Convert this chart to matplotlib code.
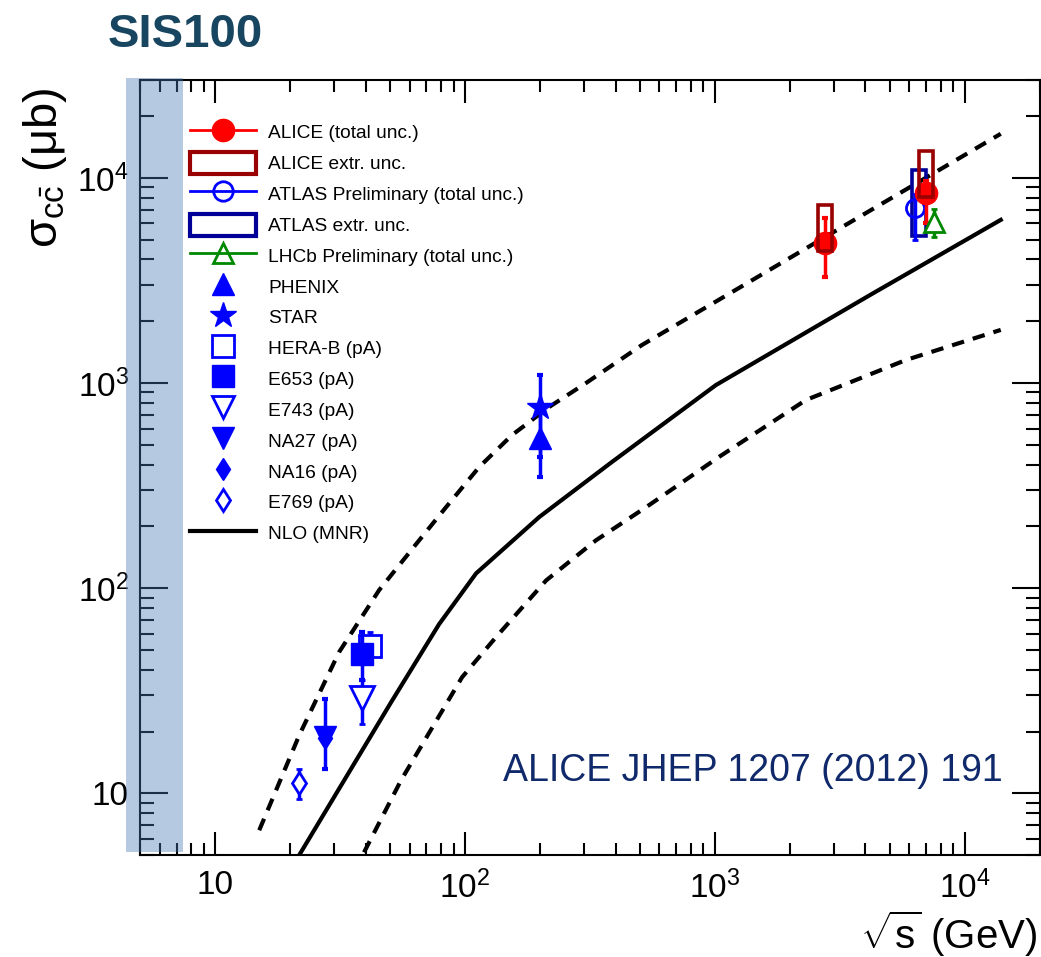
import numpy as np
import matplotlib
matplotlib.use('Agg')
import matplotlib.pyplot as plt
from matplotlib.lines import Line2D
from matplotlib.patches import Patch
from matplotlib.ticker import FixedLocator, FixedFormatter, LogLocator, NullFormatter

plt.rcParams['font.family'] = ['Liberation Sans', 'DejaVu Sans']
plt.rcParams['mathtext.fontset'] = 'custom'
plt.rcParams['mathtext.rm'] = 'Liberation Sans'
plt.rcParams['mathtext.it'] = 'Liberation Sans'
plt.rcParams['mathtext.bf'] = 'Liberation Sans:bold'
plt.rcParams['mathtext.sf'] = 'Liberation Sans'

# ---------------- data ----------------
# NLO (MNR) curves: sqrt(s) [GeV], sigma_cc [mub]
nlo_central_x = [21.7, 50.6, 78.7, 110.7, 198, 387, 1009, 4246, 13930]
nlo_central_y = [5.0, 27.8, 66.7, 118, 222, 412, 977, 2716, 6240]
nlo_upper_x = [15.0, 21.7, 31.3, 45.3, 65.5, 83.9, 113.8, 154, 217, 305, 510, 1247, 3133, 13930]
nlo_upper_y = [6.6, 19.2, 48.7, 97.8, 171, 248, 389, 557, 764, 1000, 1531, 2904, 5636, 16400]
nlo_lower_x = [39.4, 55.5, 97.3, 133, 211, 334, 530, 1038, 2312, 5808, 13930]
nlo_lower_y = [5.15, 11.6, 36.8, 57.7, 109, 171, 248, 436, 826, 1294, 1815]

# ALICE
alice_x = [2760, 7000]
alice_y = [4820, 8450]
alice_lo = [3290, 6030]
alice_hi = [6380, 9660]
alice_extr_lo = [4400, 8100]
alice_extr_hi = [7400, 13500]

# ATLAS Preliminary
atlas_x = [6300]
atlas_box_x = [6550]
atlas_y = [7130]
atlas_lo = [5000]
atlas_hi = [8350]
atlas_extr_lo = [5230]
atlas_extr_hi = [10950]

# LHCb Preliminary
lhcb_x = [7520]
lhcb_y = [6100]
lhcb_lo = [5150]
lhcb_hi = [7060]

# RHIC
phenix_x = [200]
phenix_y = [540]
phenix_lo = [348]
phenix_hi = [780]
star_x = [200]
star_y = [764]
star_lo = [435]
star_hi = [1094]

# fixed target pA
herab_x = [41.6]
herab_y = [52]
herab_lo = [43]
herab_hi = [61]
e653_x = [38.8]
e653_y = [48]
e653_lo = [35.6]
e653_hi = [61]
e743_x = [38.8]
e743_y = [29]
e743_lo = [21.7]
e743_hi = [35.6]
na27_x = [27.4]
na27_y = [18.8]
na27_lo = [13.1]
na27_hi = [28.7]
na16_x = [27.4]
na16_y = [18.5]
e769_x = [21.7]
e769_y = [11.2]
e769_lo = [9.35]
e769_hi = [13.1]

sis100_range = [4.4, 7.4]

x_major_ticks = [10, 100, 1000, 10000]
x_tick_labels = ['10', r'$10^{2}$', r'$10^{3}$', r'$10^{4}$']
y_major_ticks = [10, 100, 1000, 10000]
y_tick_labels = ['10', r'$10^{2}$', r'$10^{3}$', r'$10^{4}$']

legend_labels = ['ALICE (total unc.)', 'ALICE extr. unc.', 'ATLAS Preliminary (total unc.)',
                 'ATLAS extr. unc.', 'LHCb Preliminary (total unc.)', 'PHENIX', 'STAR',
                 'HERA-B (pA)', 'E653 (pA)', 'E743 (pA)', 'NA27 (pA)', 'NA16 (pA)',
                 'E769 (pA)', 'NLO (MNR)']

# ---------------- styles ----------------
RED = '#ff0000'
DRED = '#990000'
BLUE = '#0000ff'
DBLUE = '#000099'
GREEN = '#008800'
BOX_HALF_DEC = 0.028

fig = plt.figure(figsize=(10.41, 9.57), dpi=100)
ax = fig.add_axes([140/1041, 1-855/957, 900/1041, 775/957])
ax.set_xscale('log')
ax.set_yscale('log')
ax.set_xlim(5, 2e4)
ax.set_ylim(5, 3e4)

# NLO curves
ax.plot(nlo_central_x, nlo_central_y, color='black', lw=3, zorder=2)
ax.plot(nlo_upper_x, nlo_upper_y, color='black', lw=3, dashes=(3, 2.2), zorder=2)
ax.plot(nlo_lower_x, nlo_lower_y, color='black', lw=3, dashes=(3, 2.2), zorder=2)


def yerr(y, lo, hi):
    return [np.subtract(y, lo), np.subtract(hi, y)]


def box(x, lo, hi, color, z):
    x = np.asarray(x, float)
    left = x * 10**(-BOX_HALF_DEC)
    width = x * 10**(BOX_HALF_DEC) - left
    ax.bar(left, np.subtract(hi, lo), width=width, bottom=lo, align='edge',
           fill=False, edgecolor=color, linewidth=2.6, zorder=z)


eb = dict(capsize=2.5, capthick=3, elinewidth=2.5, linestyle='none')

# fixed target
ax.errorbar(herab_x, herab_y, yerr=yerr(herab_y, herab_lo, herab_hi), fmt='s', ms=16,
            mfc='white', mec=BLUE, mew=2, color=BLUE, zorder=4, **eb)
ax.errorbar(e653_x, e653_y, yerr=yerr(e653_y, e653_lo, e653_hi), fmt='s', ms=16,
            mfc=BLUE, mec=BLUE, color=BLUE, zorder=5, **eb)
ax.errorbar(e743_x, e743_y, yerr=yerr(e743_y, e743_lo, e743_hi), fmt='v', ms=17,
            mfc='white', mec=BLUE, mew=2, color=BLUE, zorder=4, **eb)
ax.plot(na16_x, na16_y, 'd', ms=11.5, color=BLUE, zorder=4)
ax.errorbar(na27_x, na27_y, yerr=yerr(na27_y, na27_lo, na27_hi), fmt='v', ms=16,
            mfc=BLUE, mec=BLUE, color=BLUE, zorder=5, **eb)
ax.errorbar(e769_x, e769_y, yerr=yerr(e769_y, e769_lo, e769_hi), fmt='d', ms=11.5,
            mfc='white', mec=BLUE, mew=2, color=BLUE, zorder=4, **eb)

# RHIC
ax.errorbar(phenix_x, phenix_y, yerr=yerr(phenix_y, phenix_lo, phenix_hi), fmt='^', ms=16,
            mfc=BLUE, mec=BLUE, color=BLUE, zorder=4, **eb)
ax.errorbar(star_x, star_y, yerr=yerr(star_y, star_lo, star_hi), fmt='*', ms=20,
            mfc=BLUE, mec=BLUE, color=BLUE, zorder=5, **eb)

# LHC
box(atlas_box_x, atlas_extr_lo, atlas_extr_hi, DBLUE, 4)
ax.errorbar(atlas_x, atlas_y, yerr=yerr(atlas_y, atlas_lo, atlas_hi), fmt='o', ms=13,
            mfc='none', mec=BLUE, mew=2, color=BLUE, zorder=4, **eb)
ax.errorbar(alice_x, alice_y, yerr=yerr(alice_y, alice_lo, alice_hi), fmt='o', ms=16,
            mfc=RED, mec=RED, color=RED, zorder=5, **eb)
box(alice_x, alice_extr_lo, alice_extr_hi, DRED, 6)
ax.errorbar(lhcb_x, lhcb_y, yerr=yerr(lhcb_y, lhcb_lo, lhcb_hi), fmt='^', ms=15,
            mfc='white', mec=GREEN, mew=2, color=GREEN, zorder=5, **eb)

# SIS100 band
ax.axvspan(sis100_range[0], sis100_range[1], ymin=0.004, ymax=1.003, color='#4678b4',
           alpha=0.4, lw=0, zorder=10, clip_on=False)

# ticks
ax.xaxis.set_major_locator(FixedLocator(x_major_ticks))
ax.xaxis.set_major_formatter(FixedFormatter(x_tick_labels))
ax.yaxis.set_major_locator(FixedLocator(y_major_ticks))
ax.yaxis.set_major_formatter(FixedFormatter(y_tick_labels))
ax.xaxis.set_minor_locator(LogLocator(base=10, subs=np.arange(2, 10), numticks=20))
ax.yaxis.set_minor_locator(LogLocator(base=10, subs=np.arange(2, 10), numticks=20))
ax.xaxis.set_minor_formatter(NullFormatter())
ax.yaxis.set_minor_formatter(NullFormatter())
ax.tick_params(which='both', direction='in', top=True, right=True, width=1.5, color='black')
ax.tick_params(axis='x', which='major', length=16.5, labelsize=24, pad=11)
ax.tick_params(axis='x', which='minor', length=8.5)
ax.tick_params(axis='y', which='major', length=20, labelsize=24, pad=8)
ax.tick_params(axis='y', which='minor', length=10)
for s in ax.spines.values():
    s.set_linewidth(1.5)

# axis labels
ax.set_xlabel(r'$\sqrt{s}$ (GeV)', fontsize=29, loc='right')
ax.xaxis.set_label_coords(0.997, -0.069)
ax.set_ylabel(r'$\sigma_{c\bar{c}}$ (μb)', fontsize=34, loc='top')
ax.yaxis.set_label_coords(-0.079, 0.991)

# annotation
ax.text(0.403, 0.095, 'ALICE JHEP 1207 (2012) 191', transform=ax.transAxes,
        fontsize=27, color='#10296b', ha='left', va='baseline')

# title
fig.text(108/1041, 1-47/957, 'SIS100', fontsize=34, fontweight='bold', color='#184660',
         ha='left', va='baseline')

# legend
handles = [
    Line2D([0], [0], color=RED, lw=2, marker='o', ms=16, mfc=RED, mec=RED),
    Patch(facecolor='none', edgecolor=DRED, lw=3),
    Line2D([0], [0], color=BLUE, lw=2, marker='o', ms=14, mfc='none', mec=BLUE, mew=2),
    Patch(facecolor='none', edgecolor=DBLUE, lw=3),
    Line2D([0], [0], color=GREEN, lw=2, marker='^', ms=15, mfc='none', mec=GREEN, mew=2),
    Line2D([0], [0], ls='none', marker='^', ms=16, color=BLUE),
    Line2D([0], [0], ls='none', marker='*', ms=19, color=BLUE),
    Line2D([0], [0], ls='none', marker='s', ms=16, mfc='white', mec=BLUE, mew=2),
    Line2D([0], [0], ls='none', marker='s', ms=16, color=BLUE),
    Line2D([0], [0], ls='none', marker='v', ms=16, mfc='white', mec=BLUE, mew=2),
    Line2D([0], [0], ls='none', marker='v', ms=16, color=BLUE),
    Line2D([0], [0], ls='none', marker='d', ms=11.5, color=BLUE),
    Line2D([0], [0], ls='none', marker='d', ms=11.5, mfc='white', mec=BLUE, mew=2),
    Line2D([0], [0], color='black', lw=3),
]
leg = ax.legend(handles, legend_labels, loc='upper left', bbox_to_anchor=(0.0556, 0.947),
                frameon=False, fontsize=13.8, handlelength=3.44, handleheight=1.39,
                labelspacing=0.46, handletextpad=0.63, borderpad=0, borderaxespad=0,
                numpoints=1)
leg.set_zorder(20)

fig.savefig('out.png', dpi=100)
